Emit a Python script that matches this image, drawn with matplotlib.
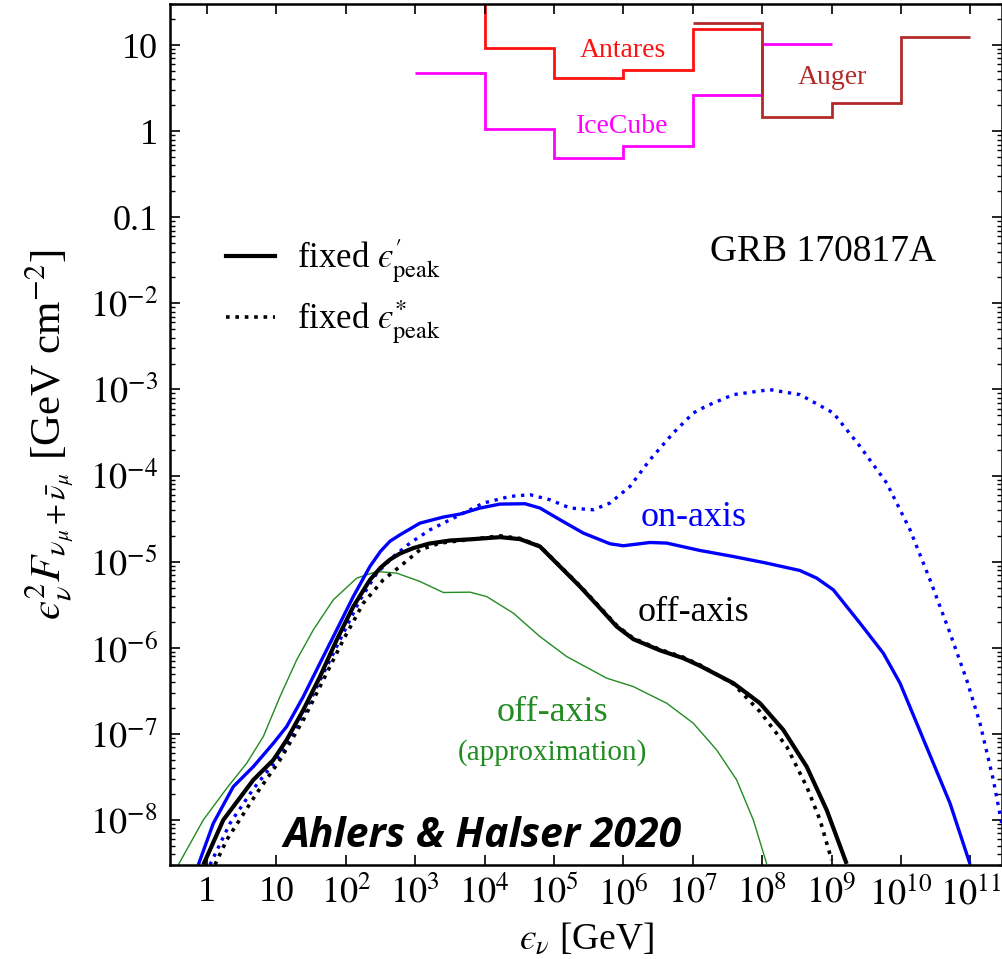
import numpy as np
import matplotlib
matplotlib.use("Agg")
import matplotlib.pyplot as plt
from matplotlib.lines import Line2D
from matplotlib import font_manager as fm
from matplotlib.ticker import LogLocator, NullLocator, FixedLocator, FixedFormatter

plt.rcParams['font.family'] = ['Liberation Serif', 'DejaVu Serif']
plt.rcParams['mathtext.fontset'] = 'stix'

# ---- data (log10 of energy in GeV, log10 of flux in GeV cm^-2) ----
blue_solid_logE = [-0.125, 0.091, 0.379, 0.667, 0.956, 1.148, 1.388, 1.628, 1.869, 2.108, 2.349, 2.50, 2.637,
                   2.781, 3.069, 3.405, 3.646, 3.934, 4.222, 4.582, 4.798, 5.086, 5.423, 5.807, 5.999,
                   6.383, 6.624, 7.104, 7.584, 8.065, 8.545, 8.785, 9.025, 9.409, 9.745, 9.986, 10.226,
                   10.466, 10.706, 10.994]
blue_solid_logF = [-8.52, -8.039, -7.613, -7.381, -7.109, -6.915, -6.567, -6.179, -5.792, -5.405, -5.054, -4.88, -4.762,
                   -4.688, -4.552, -4.482, -4.447, -4.377, -4.331, -4.327, -4.377, -4.513, -4.668, -4.792, -4.815,
                   -4.777, -4.784, -4.870, -4.940, -5.017, -5.103, -5.191, -5.327, -5.714, -6.063, -6.411, -6.876,
                   -7.341, -7.806, -8.511]

blue_dot_logE = [0.043, 0.331, 0.667, 1.052, 1.388, 1.676, 1.916, 2.2, 2.45, 2.7, 2.925, 3.213, 3.598, 3.982,
                 4.366, 4.654, 4.942, 5.231, 5.567, 5.807, 6.095, 6.383, 6.719, 7.007, 7.2, 7.584, 8.112,
                 8.545, 9.025, 9.409, 9.794, 10.130, 10.418, 10.706, 10.946, 11.138, 11.330, 11.45]
blue_dot_logF = [-8.52, -8.04, -7.64, -7.25, -6.78, -6.30, -5.908, -5.45, -5.13, -4.93, -4.784, -4.630, -4.475, -4.319,
                 -4.242, -4.222, -4.281, -4.377, -4.397, -4.319, -4.126, -3.816, -3.505, -3.273, -3.190, -3.060, -3.002,
                 -3.060, -3.273, -3.661, -4.087, -4.630, -5.211, -5.830, -6.373, -6.876, -7.535, -8.04]

black_solid_logE = [-0.053, 0.235, 0.667, 0.956, 1.148, 1.388, 1.628, 1.869, 2.108, 2.349, 2.50, 2.637, 2.781, 2.973,
                    3.20, 3.501, 3.837, 4.222, 4.510, 4.798, 5.086, 5.375, 5.663, 5.903, 6.143, 6.527, 6.863,
                    7.104, 7.584, 7.968, 8.304, 8.641, 8.929, 9.217]
black_solid_logF = [-8.52, -8.0, -7.535, -7.303, -7.070, -6.722, -6.335, -5.908, -5.521, -5.210, -5.07, -4.975, -4.905, -4.842,
                    -4.790, -4.754, -4.738, -4.715, -4.738, -4.824, -5.056, -5.289, -5.54, -5.753, -5.90, -6.03, -6.121,
                    -6.21, -6.411, -6.644, -6.954, -7.381, -7.884, -8.51]

black_dot_logE = [0.115, 0.284, 0.716, 1.052, 1.388, 1.676, 1.964, 2.252, 2.540, 2.781, 3.069, 3.357, 3.837,
                  4.222, 4.510, 4.798, 5.086, 5.375, 5.663, 5.903, 6.143, 6.527, 6.863, 7.104, 7.584, 7.968,
                  8.353, 8.641, 8.833, 9.0]
black_dot_logF = [-8.52, -8.232, -7.690, -7.303, -6.838, -6.373, -5.908, -5.482, -5.210, -5.056, -4.862, -4.784, -4.738,
                  -4.70, -4.73, -4.82, -5.05, -5.28, -5.53, -5.74, -5.89, -6.02, -6.11, -6.20, -6.42, -6.742,
                  -7.148, -7.613, -8.0, -8.465]

green_logE = [-0.413, -0.053, 0.284, 0.572, 0.811, 1.052, 1.292, 1.532, 1.820, 2.157, 2.445, 2.733, 3.069,
              3.405, 3.790, 4.030, 4.414, 4.798, 5.183, 5.759, 6.143, 6.624, 7.007, 7.344, 7.632, 7.872, 8.065]
green_logF = [-8.52, -8.0, -7.632, -7.341, -7.032, -6.567, -6.141, -5.792, -5.443, -5.191, -5.114, -5.133, -5.230,
              -5.358, -5.354, -5.405, -5.598, -5.870, -6.102, -6.353, -6.451, -6.644, -6.876, -7.187, -7.535, -8.0, -8.51]

antares_edges = [1e3, 1e4, 1e5, 1e6, 1e7, 1e8]
antares_vals = [60.0, 9.2, 4.1, 5.1, 15.2]
icecube_edges = [1e3, 1e4, 1e5, 1e6, 1e7, 1e8, 1e9]
icecube_vals = [4.7, 1.07, 0.49, 0.67, 2.6, 10.4]
auger_edges = [1e7, 1e8, 1e9, 1e10, 1e11]
auger_vals = [18.2, 1.48, 2.1, 12.3]

xtick_vals = [1e0, 1e1, 1e2, 1e3, 1e4, 1e5, 1e6, 1e7, 1e8, 1e9, 1e10, 1e11]
xtick_labels = ['1', '10'] + [r'$10^{%d}$' % k for k in range(2, 12)]
ytick_vals = [1e1, 1e0, 1e-1, 1e-2, 1e-3, 1e-4, 1e-5, 1e-6, 1e-7, 1e-8]
ytick_labels = ['10', '1', '0.1'] + [r'$10^{%d}$' % k for k in range(-2, -9, -1)]

# ---- figure ----
fig = plt.figure(figsize=(10.03, 9.59), dpi=100)
ax = fig.add_axes([170/1003, (959-865)/959, 832/1003, 861/959])
ax.set_xscale('log')
ax.set_yscale('log')


def p(lx, ly):
    return 10**np.asarray(lx), 10**np.asarray(ly)

kw = dict(solid_joinstyle='round', solid_capstyle='butt')
ax.plot(*p(green_logE, green_logF), color='#228B22', lw=1.0, **kw)
ax.plot(*p(blue_dot_logE, blue_dot_logF), color='#0000ff', lw=2.4, ls=(0, (1, 1.7)))
ax.plot(*p(black_dot_logE, black_dot_logF), color='k', lw=2.6, ls=(0, (1, 1.6)))
ax.plot(*p(blue_solid_logE, blue_solid_logF), color='#0000ff', lw=2.4, **kw)
ax.plot(*p(black_solid_logE, black_solid_logF), color='k', lw=3.0, **kw)

ax.stairs(antares_vals, antares_edges, baseline=None, color='#ff1010', lw=2.0)
ax.stairs(icecube_vals, icecube_edges, baseline=None, color='#ff00ff', lw=2.0)
ax.stairs(auger_vals, auger_edges, baseline=None, color='#b22a2a', lw=2.0)

ax.set_xlim(10**-0.533, 10**11.455)
ax.set_ylim(3.0e-9, 30)

ax.xaxis.set_major_locator(FixedLocator(xtick_vals))
ax.xaxis.set_major_formatter(FixedFormatter(xtick_labels))
ax.xaxis.set_minor_locator(NullLocator())
ax.yaxis.set_major_locator(FixedLocator(ytick_vals))
ax.yaxis.set_major_formatter(FixedFormatter(ytick_labels))
ax.yaxis.set_minor_locator(LogLocator(base=10, subs=np.arange(2, 10), numticks=30))

ax.tick_params(which='both', direction='in', top=True, right=True, labelsize=26)
ax.tick_params(which='major', length=7, width=1.2)
ax.tick_params(which='minor', length=3.5, width=1.0)
ax.tick_params(axis='y', which='major', pad=9)
ax.tick_params(axis='x', which='major', pad=8)
for s in ax.spines.values():
    s.set_linewidth(1.8)

ax.set_xlabel(r'$ϵ_\nu$ [GeV]', fontsize=27, labelpad=7)
ax.set_ylabel(r'$ϵ_\nu^2 F_{\nu_\mu+\bar{\nu}_\mu}$ [GeV cm$^{-2}$]', fontsize=31, labelpad=10)

T = ax.transAxes
ax.text(0.544, 0.946, 'Antares', color='#ff1010', fontsize=20, ha='center', va='center', transform=T)
ax.text(0.544, 0.858, 'IceCube', color='#ff00ff', fontsize=20, ha='center', va='center', transform=T)
ax.text(0.796, 0.915, 'Auger', color='#b22a2a', fontsize=20, ha='center', va='center', transform=T)
ax.text(0.785, 0.712, 'GRB 170817A', color='k', fontsize=27, ha='center', va='center', transform=T)
ax.text(0.629, 0.404, 'on-axis', color='#0000ff', fontsize=26, ha='center', va='center', transform=T)
ax.text(0.629, 0.293, 'off-axis', color='k', fontsize=26, ha='center', va='center', transform=T)
ax.text(0.460, 0.177, 'off-axis', color='#228B22', fontsize=26, ha='center', va='center', transform=T)
ax.text(0.460, 0.131, '(approximation)', color='#228B22', fontsize=21, ha='center', va='center', transform=T)


def has_italic(fam):
    return any(f.name == fam and f.style == 'italic' and f.weight in (700, 800, 900, 'bold', 'black', 'heavy')
               for f in fm.fontManager.ttflist)

sig_fam = 'Open Sans' if has_italic('Open Sans') else 'Lato'
sig_size = 29.5 if sig_fam == 'Open Sans' else 32
ax.text(0.376, 0.033, 'Ahlers & Halser 2020', color='k', fontsize=sig_size, ha='center', va='center',
        family=[sig_fam, 'DejaVu Sans'], weight='bold', style='italic', transform=T)

handles = [Line2D([], [], color='k', lw=3.0), Line2D([], [], color='k', lw=2.6, ls=(0, (1, 1.6)))]
labels = [r"fixed $ϵ^{\prime}_{\mathrm{peak}}$", r"fixed $ϵ^{*}_{\mathrm{peak}}$"]
ax.legend(handles, labels, loc='upper left', bbox_to_anchor=(0.03, 0.765), frameon=False,
          fontsize=25, handlelength=1.4, handletextpad=0.65, labelspacing=0.4)

fig.savefig('out.png', dpi=100)
